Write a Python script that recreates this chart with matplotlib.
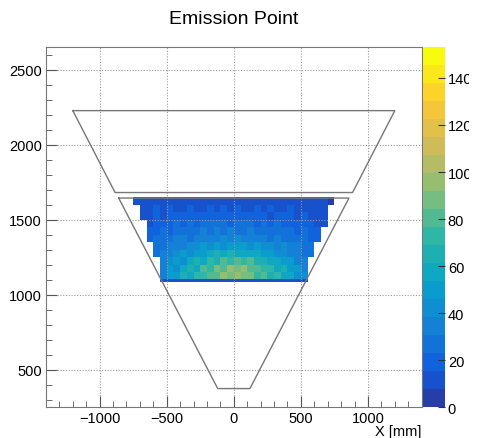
import numpy as np
import matplotlib.pyplot as plt
from matplotlib.colors import LinearSegmentedColormap, ListedColormap, BoundaryNorm
from matplotlib.patches import Rectangle

# histogram binning (mm)
x_edges = np.arange(-800, 801, 50)
y_edges = [1085, 1105, 1150, 1200, 1250, 1300, 1350, 1400, 1450, 1500, 1550, 1600, 1650]

# first filled x-bin of each y row, and the counts from there on (bottom row first)
row_first_bin = [5, 5, 5, 5, 4, 4, 3, 3, 3, 2, 2, 1]
row_counts = [
    [9, 11, 12, 10, 13, 12, 14, 11, 13, 12, 14, 13, 12, 14, 11, 13, 12, 10, 12, 11, 10, 9],
    [38, 46, 51, 62, 58, 73, 69, 84, 79, 92, 88, 97, 85, 90, 76, 81, 66, 70, 55, 57, 44, 40],
    [36, 49, 45, 59, 66, 61, 78, 72, 89, 83, 95, 86, 92, 78, 84, 69, 73, 60, 62, 48, 51, 37],
    [33, 39, 48, 44, 57, 62, 58, 71, 66, 79, 73, 82, 70, 77, 64, 68, 55, 59, 46, 50, 38, 35],
    [28, 34, 31, 41, 46, 43, 53, 49, 58, 62, 55, 64, 59, 61, 54, 57, 48, 51, 42, 45, 35, 38, 30, 27],
    [25, 29, 33, 31, 38, 42, 39, 46, 43, 49, 45, 51, 47, 50, 44, 48, 41, 43, 37, 39, 32, 34, 28, 24],
    [20, 25, 28, 26, 31, 34, 30, 37, 33, 38, 35, 40, 36, 39, 34, 37, 32, 35, 30, 33, 28, 30, 26, 27, 22, 19],
    [17, 21, 24, 22, 27, 25, 29, 26, 31, 28, 32, 29, 33, 30, 28, 31, 27, 30, 25, 28, 23, 26, 22, 24, 19, 16],
    [14, 18, 21, 19, 23, 20, 25, 22, 26, 23, 27, 24, 22, 27, 23, 25, 21, 24, 20, 23, 19, 22, 18, 20, 17, 15, 13],
    [11, 15, 18, 14, 19, 16, 20, 17, 21, 18, 16, 22, 19, 17, 21, 18, 20, 16, 19, 15, 18, 16, 19, 14, 17, 15, 13, 11],
    [10, 13, 16, 12, 17, 14, 13, 18, 15, 12, 17, 14, 16, 13, 18, 15, 12, 17, 14, 16, 13, 15, 17, 12, 14, 11, 13, 10],
    [8, 11, 9, 13, 10, 12, 9, 14, 11, 10, 13, 9, 12, 15, 10, 12, 14, 10, 13, 9, 14, 11, 10, 13, 10, 12, 9, 11, 8, 7],
]

# detector outline (mm)
upper_x = [-1200, 1200, 885, -885, -1200]
upper_y = [2228, 2228, 1682, 1682, 2228]
lower_x = [-858, 858, 120, -120, -858]
lower_y = [1645, 1645, 375, 375, 1645]

z_max = 153
n_levels = 20

# ROOT kBird palette
bird_r = [0.2082, 0.0592, 0.0780, 0.0232, 0.1802, 0.5301, 0.8186, 0.9956, 0.9764]
bird_g = [0.1664, 0.3599, 0.5041, 0.6419, 0.7178, 0.7492, 0.7328, 0.7862, 0.9832]
bird_b = [0.5293, 0.8684, 0.8385, 0.7914, 0.6425, 0.4662, 0.3499, 0.1968, 0.0539]
bird = LinearSegmentedColormap.from_list(
    'bird', list(zip(np.linspace(0, 1, 9), zip(bird_r, bird_g, bird_b))))
cmap = ListedColormap([bird((i + 0.99) / n_levels) for i in range(n_levels)])
norm = BoundaryNorm(np.linspace(0, z_max, n_levels + 1), n_levels)

counts = np.zeros((len(y_edges) - 1, len(x_edges) - 1))
for i, (j0, vals) in enumerate(zip(row_first_bin, row_counts)):
    counts[i, j0:j0 + len(vals)] = vals
counts = np.ma.masked_equal(counts, 0)

plt.rcParams['font.family'] = ['Liberation Sans', 'DejaVu Sans']

fig = plt.figure(figsize=(4.85, 4.39), dpi=100)
ax = fig.add_axes([0.0948, 0.0699, 0.7746, 0.8200])
cax = fig.add_axes([0.8728, 0.0699, 0.0447, 0.8200])

mesh = ax.pcolormesh(x_edges, y_edges, counts, cmap=cmap, norm=norm)
ax.plot(upper_x, upper_y, color='#777777', lw=1.0)
ax.plot(lower_x, lower_y, color='#777777', lw=1.0)

ax.set_xlim(-1400, 1400)
ax.set_ylim(250, 2650)
ax.set_xticks([-1000, -500, 0, 500, 1000])
ax.set_xticks(np.arange(-1300, 1400, 100), minor=True)
ax.set_yticks([500, 1000, 1500, 2000, 2500])
ax.set_yticks(np.arange(300, 2700, 100), minor=True)
ax.grid(True, which='major', color='#999999', linestyle=(0, (1, 1.5)), lw=0.8)
ax.tick_params(which='both', direction='in', top=False, right=False,
               labelsize=10.5, color='#555555', pad=3)
ax.tick_params(which='major', length=8)
ax.tick_params(which='minor', length=4.5)
for s in ax.spines.values():
    s.set_color('#777777')

ax.set_xlabel('X [mm]', fontsize=10.5)
ax.xaxis.label.set_ha('right')
ax.xaxis.label.set_va('center')
ax.xaxis.set_label_coords(1.0, -0.066)

cb = fig.colorbar(mesh, cax=cax, ticks=np.arange(0, 141, 20))
cb.outline.set_visible(False)
cax.tick_params(direction='in', length=5, labelsize=10.5, pad=2, color='#333333')
cax.minorticks_off()

# the canvas ends just right of the palette labels, cutting the 3-digit ones
fig.patches.append(Rectangle((469 / 485, 0), 16 / 485, 1, transform=fig.transFigure,
                             facecolor='white', edgecolor='none', zorder=10))

fig.text(0.482, 1 - 20 / 439, 'Emission Point', ha='center', va='center', fontsize=14)

fig.savefig('out.png', dpi=100)
